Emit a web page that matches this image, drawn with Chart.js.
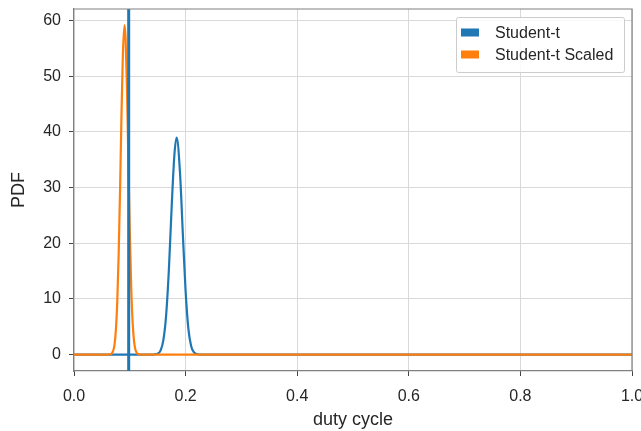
<!DOCTYPE html>
<html>
<head>
<meta charset="utf-8">
<script src="https://cdn.jsdelivr.net/npm/chart.js@4.4.1/dist/chart.umd.min.js"></script>
<style>
  body { margin: 0; background: #fff; }
  canvas { display: block; }
</style>
</head>
<body>
<canvas id="myChart" width="641" height="431"></canvas>
<script>
// tick labels
var xTicks = [0, 0.2, 0.4, 0.6, 0.8, 1.0];
var yTicks = [0, 10, 20, 30, 40, 50, 60];
var yMin = -2.96, yMax = 62.1;

// Student-t pdf
var studentX = [0, 0.14, 0.145, 0.15, 0.155, 0.16, 0.165, 0.17, 0.175, 0.18, 0.184, 0.19, 0.195, 0.2, 0.205, 0.21, 0.215, 0.22, 0.225, 1.0];
var studentY = [0, 0, 0.05, 0.15, 0.7, 2.5, 6.9, 15.2, 26.5, 36, 39, 32.6, 21.8, 11.4, 4.6, 1.5, 0.4, 0.1, 0, 0];

// Student-t Scaled pdf
var scaledX = [0, 0.06, 0.065, 0.0675, 0.07, 0.0725, 0.075, 0.0775, 0.08, 0.0825, 0.085, 0.0875, 0.0905, 0.0925, 0.095, 0.0975, 0.1, 0.1025, 0.105, 0.1075, 0.11, 0.1125, 0.115, 0.12, 1.0];
var scaledY = [0, 0, 0.05, 0.2, 0.6, 1.7, 4.3, 9.4, 17.8, 29.4, 42.5, 53.6, 59.2, 56.7, 47.4, 34.6, 22.1, 12.2, 5.9, 2.5, 0.9, 0.3, 0.1, 0, 0];

// observed duty cycle (vertical line)
var observed = 0.098;

var blue = '#1f77b4', orange = '#ff7f0e';

function pts(xs, ys) {
    return xs.map(function (x, i) { return { x: x, y: ys[i] }; });
}

function noPad(s) {
    s.paddingLeft = 0; s.paddingRight = 0; s.paddingTop = 0; s.paddingBottom = 0;
}

Chart.defaults.font.family = "'Liberation Sans', Arial, sans-serif";

// legend box + top/right spines
var framePlugin = {
    id: 'frame',
    afterDraw: function (chart) {
        var c = chart.ctx, a = chart.chartArea;
        c.save();
        c.strokeStyle = '#808080';
        c.lineWidth = 1.2;
        c.beginPath();
        c.moveTo(a.left, a.top);
        c.lineTo(a.right, a.top);
        c.lineTo(a.right, a.bottom);
        c.stroke();

        var items = chart.data.datasets.filter(function (d) { return d.inLegend; });
        var bx = 456, by = 17, bw = 168, bh = 55;
        c.fillStyle = 'rgba(255,255,255,0.85)';
        c.strokeStyle = '#cccccc';
        c.lineWidth = 1;
        c.beginPath();
        c.roundRect(bx + 0.5, by + 0.5, bw, bh, 2);
        c.fill();
        c.stroke();
        c.font = "16px 'Liberation Sans', Arial, sans-serif";
        c.textBaseline = 'middle';
        items.forEach(function (d, i) {
            var cy = by + 15.5 + i * 22;
            c.fillStyle = d.borderColor;
            c.fillRect(bx + 5, cy - 4, 18, 8);
            c.fillStyle = '#262626';
            c.fillText(d.label, bx + 39, cy + 1);
        });
        c.restore();
    }
};

var ctx = document.getElementById('myChart').getContext('2d');
var myChart = new Chart(ctx, {
    type: 'line',
    data: {
        datasets: [{
            label: 'Student-t',
            data: pts(studentX, studentY),
            borderColor: blue,
            borderWidth: 2.2,
            order: 2,
            inLegend: true
        }, {
            label: 'Student-t Scaled',
            data: pts(scaledX, scaledY),
            borderColor: orange,
            borderWidth: 2.2,
            order: 1,
            inLegend: true
        }, {
            label: 'observed',
            data: [{ x: observed, y: yMin - 5 }, { x: observed, y: yMax + 5 }],
            borderColor: blue,
            borderWidth: 3,
            order: 0,
            inLegend: false
        }]
    },
    options: {
        responsive: false,
        animation: false,
        layout: { padding: { top: 9, right: 9, left: 0, bottom: 0 } },
        elements: {
            point: { radius: 0 },
            line: { cubicInterpolationMode: 'monotone', fill: false }
        },
        plugins: {
            legend: { display: false },
            tooltip: { enabled: false }
        },
        scales: {
            x: {
                type: 'linear',
                min: 0,
                max: 1,
                afterBuildTicks: function (s) { s.ticks = xTicks.map(function (v) { return { value: v }; }); },
                afterFit: function (s) { s.height = 60; noPad(s); },
                ticks: {
                    callback: function (v) { return v.toFixed(1); },
                    font: { size: 16 },
                    color: '#262626',
                    padding: 11,
                    maxRotation: 0
                },
                grid: { color: '#d9d9d9', tickColor: '#444', tickLength: 5 },
                border: { color: '#808080', width: 1.2 },
                title: { display: true, text: 'duty cycle', font: { size: 18 }, color: '#262626', padding: { top: 0, bottom: 0 } }
            },
            y: {
                min: yMin,
                max: yMax,
                afterBuildTicks: function (s) { s.ticks = yTicks.map(function (v) { return { value: v }; }); },
                afterFit: function (s) { s.width = 74; noPad(s); },
                ticks: {
                    font: { size: 16 },
                    color: '#262626',
                    padding: 8
                },
                grid: { color: '#d9d9d9', tickColor: '#444', tickLength: 5 },
                border: { color: '#808080', width: 1.2 },
                title: { display: true, text: 'PDF', font: { size: 18 }, color: '#262626', padding: { top: 8, bottom: 0 } }
            }
        }
    },
    plugins: [framePlugin]
});
</script>
</body>
</html>
